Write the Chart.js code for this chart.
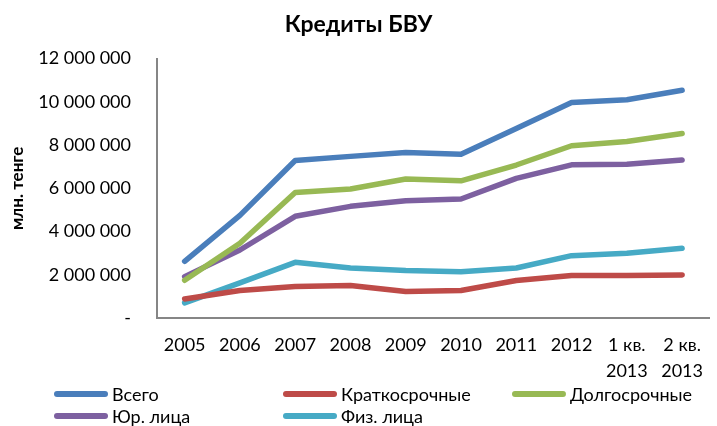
<!DOCTYPE html>
<html><head><meta charset="utf-8">
<script src="https://cdn.jsdelivr.net/npm/chart.js@4/dist/chart.umd.min.js"></script>
<style>
html,body{margin:0;padding:0;background:#fff;}
#wrap{position:relative;width:717px;height:426px;overflow:hidden;}
#legend{position:absolute;left:54px;top:383px;width:663px;font-family:Lato,"Open Sans",sans-serif;font-size:18px;line-height:22px;color:#000;}
.li{position:absolute;display:flex;align-items:center;white-space:nowrap;height:22px;}
.sw{width:54px;height:6px;border-radius:3px;margin-right:4px;}
</style></head>
<body><div id="wrap"><canvas id="c" width="717" height="426"></canvas><div id="legend"></div></div>
<script>
const categories = ["2005","2006","2007","2008","2009","2010","2011","2012",["1 кв.","2013"],["2 кв.","2013"]];
const seriesNames = ["Всего","Краткосрочные","Долгосрочные","Юр. лица","Физ. лица"];
const total      = [2630000,4750000,7290000,7480000,7660000,7580000,8770000,9970000,10100000,10540000];
const shortTerm  = [890000,1280000,1460000,1510000,1230000,1280000,1740000,1970000,1970000,2000000];
const longTerm   = [1750000,3460000,5810000,5970000,6430000,6350000,7080000,7970000,8170000,8540000];
const legalEnt   = [1920000,3150000,4710000,5170000,5430000,5510000,6460000,7090000,7120000,7310000];
const individuals= [710000,1630000,2580000,2320000,2200000,2150000,2320000,2890000,3000000,3230000];
const yTicks = [0,2000000,4000000,6000000,8000000,10000000,12000000];

const colors = ["#4a7ebb","#be4b48","#98b954","#7d60a0","#46aac5"];
const values = [total,shortTerm,longTerm,legalEnt,individuals];
const FONT = "Lato, 'Open Sans', sans-serif";

function fmt(v){ if(v===0) return "-"; return String(v).replace(/\B(?=(\d{3})+(?!\d))/g," "); }

const chart = new Chart(document.getElementById("c"),{
  type:"line",
  data:{labels:categories,datasets:seriesNames.map((n,i)=>({label:n,data:values[i],borderColor:colors[i],backgroundColor:colors[i],borderWidth:5.5,pointRadius:0,tension:0,borderCapStyle:"round",borderJoinStyle:"round"}))},
  options:{
    responsive:false,animation:false,
    layout:{padding:{top:0,right:0,bottom:28,left:0}},
    plugins:{
      legend:{display:false},
      tooltip:{enabled:false},
      title:{display:true,text:"Кредиты БВУ",font:{family:FONT,size:23,weight:"bold"},color:"#000",padding:{top:11,bottom:20}}
    },
    scales:{
      x:{offset:true,grid:{display:false,drawTicks:false},border:{color:"#868686",width:2},
         ticks:{color:"#000",font:{family:FONT,size:18,lineHeight:1.44},padding:14,maxRotation:0,autoSkip:false}},
      y:{min:0,max:12000000,afterBuildTicks:s=>{s.ticks=yTicks.map(v=>({value:v}));},
         grid:{display:false,drawTicks:false},border:{color:"#868686",width:2},
         afterFit:s=>{s.width=157;},
         ticks:{color:"#000",font:{family:FONT,size:18},padding:26,callback:v=>fmt(v)},
         title:{display:true,text:"млн. тенге",color:"#000",font:{family:FONT,size:17,weight:"bold"},padding:{top:7,bottom:0}}}
    }
  }
});

const lg=document.getElementById("legend");
chart.data.datasets.forEach((d,i)=>{
  const el=document.createElement("div");el.className="li";
  el.style.left=(i%3)*229+"px";el.style.top=Math.floor(i/3)*22+"px";
  el.innerHTML='<span class="sw" style="background:'+d.borderColor+'"></span><span>'+d.label+'</span>';
  lg.appendChild(el);
});
</script></body></html>
